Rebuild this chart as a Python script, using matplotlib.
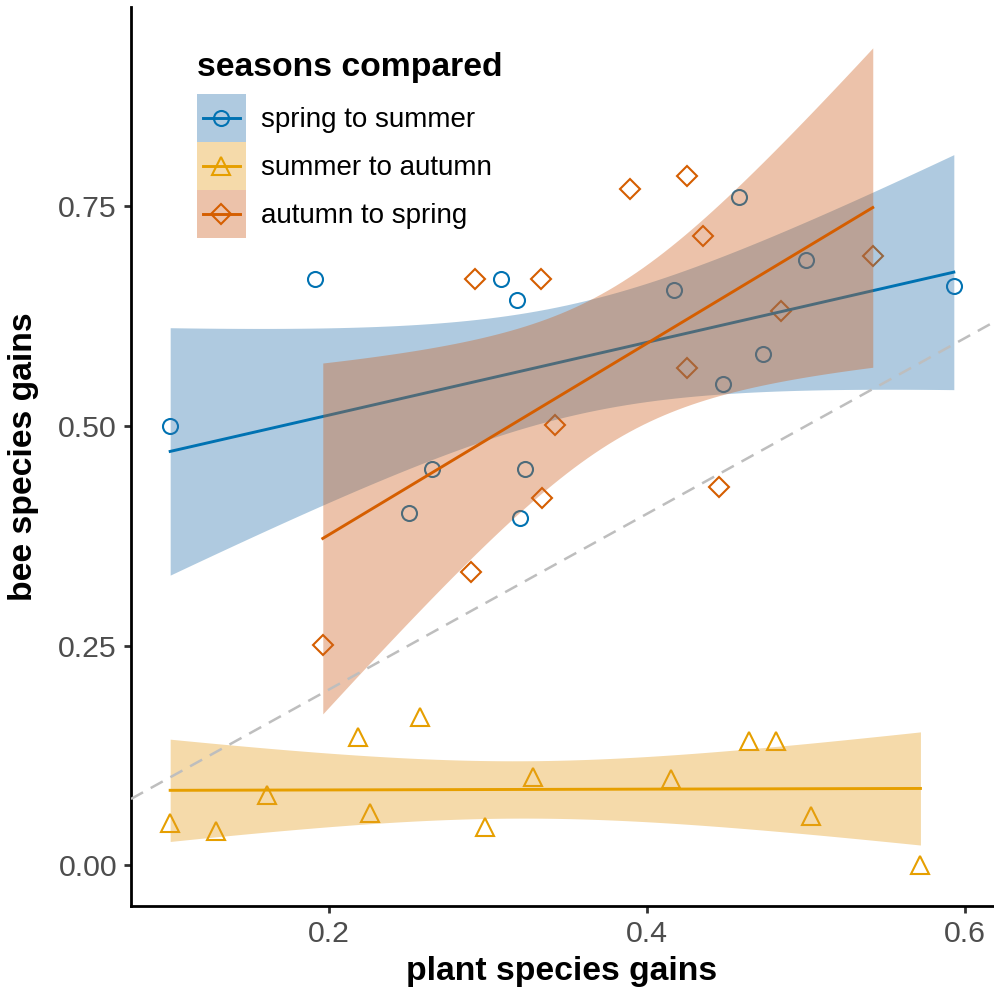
import numpy as np
import matplotlib
matplotlib.use('Agg')
import matplotlib.pyplot as plt
from matplotlib.patches import Patch
from matplotlib.lines import Line2D
from matplotlib.legend_handler import HandlerTuple, HandlerLine2D

plt.rcParams['font.family'] = ['Liberation Sans', 'DejaVu Sans']

# plant vs bee species gains for each pair of seasons
spring_x = [0.100, 0.191, 0.308, 0.318, 0.320, 0.265, 0.323, 0.250, 0.417,
            0.458, 0.500, 0.473, 0.448, 0.593]
spring_y = [0.500, 0.667, 0.667, 0.643, 0.395, 0.451, 0.451, 0.401, 0.655,
            0.761, 0.689, 0.582, 0.548, 0.659]

summer_x = [0.100, 0.129, 0.161, 0.218, 0.226, 0.257, 0.298, 0.328, 0.415,
            0.464, 0.481, 0.503, 0.572]
summer_y = [0.048, 0.039, 0.080, 0.146, 0.059, 0.169, 0.043, 0.100, 0.098,
            0.141, 0.141, 0.056, 0.000]

autumn_x = [0.196, 0.292, 0.333, 0.389, 0.425, 0.435, 0.289, 0.334, 0.342,
            0.425, 0.445, 0.484, 0.542]
autumn_y = [0.251, 0.667, 0.667, 0.770, 0.784, 0.716, 0.334, 0.418, 0.501,
            0.566, 0.430, 0.631, 0.694]

groups = ['spring to summer', 'summer to autumn', 'autumn to spring']
colors = ['#0072B2', '#E69F00', '#D55E00']
fills = ['#2D76AE', '#E59E20', '#CD6120']
markers = ['o', '^', 'D']
msizes = [10.8, 12.5, 10.0]
xs = [spring_x, summer_x, autumn_x]
ys = [spring_y, summer_y, autumn_y]
band_alpha = 0.38

# two sided 95% t quantiles by degrees of freedom
t975 = {10: 2.228139, 11: 2.200985, 12: 2.178813, 13: 2.160369}


def lm_fit(x, y, n_out=80):
    # straight line fit with a 95% confidence band for the mean
    x = np.asarray(x)
    y = np.asarray(y)
    n = len(x)
    b, a = np.polyfit(x, y, 1)
    resid = y - (a + b * x)
    s = np.sqrt(np.sum(resid ** 2) / (n - 2))
    sxx = np.sum((x - x.mean()) ** 2)
    xg = np.linspace(x.min(), x.max(), n_out)
    yg = a + b * xg
    se = s * np.sqrt(1.0 / n + (xg - x.mean()) ** 2 / sxx)
    t = t975[n - 2]
    return xg, yg, yg - t * se, yg + t * se


class CentredLine(HandlerLine2D):
    # legend line sits in the middle of the key box, a bit shorter than it
    def create_artists(self, legend, orig_handle, xdescent, ydescent,
                       width, height, fontsize, trans):
        d = 4.3
        return super().create_artists(legend, orig_handle, xdescent - d,
                                      ydescent, width - 2 * d,
                                      height - ydescent, fontsize, trans)


fig = plt.figure(figsize=(9.94, 9.92), dpi=100)
ax = fig.add_axes([131 / 994, 86 / 992, 862 / 994, 899 / 992])

for x, y, c, m, ms in zip(xs, ys, colors, markers, msizes):
    ax.plot(x, y, ls='none', marker=m, ms=ms, mfc='none', mec=c, mew=1.5,
            zorder=2)

allx, ally = [], []
z = 3
for x, y, c, f in zip(xs, ys, colors, fills):
    xg, yg, lo, hi = lm_fit(x, y)
    ax.fill_between(xg, lo, hi, color=f, alpha=band_alpha, lw=0, zorder=z)
    ax.plot(xg, yg, color=c, lw=2.1, zorder=z + 0.5)
    z += 1
    allx += list(x)
    ally += list(y) + list(lo) + list(hi)

# limits with the usual 5% padding
x0, x1 = min(allx), max(allx)
y0, y1 = min(ally), max(ally)
dx = (x1 - x0) * 0.05
dy = (y1 - y0) * 0.05
ax.set_xlim(x0 - dx, x1 + dx)
ax.set_ylim(y0 - dy, y1 + dy)

# 1:1 line
ax.axline((0, 0), slope=1, color='#BEBEBE', lw=1.8, dashes=(5.5, 3.5),
          zorder=10)

ax.set_xticks([0.2, 0.4, 0.6])
ax.set_xticklabels(['0.2', '0.4', '0.6'])
ax.set_yticks([0, 0.25, 0.5, 0.75])
ax.set_yticklabels(['0.00', '0.25', '0.50', '0.75'])
ax.tick_params(labelsize=21.8, labelcolor='#4D4D4D', color='#333333',
               length=5, width=2.0, pad=5)

for side in ['top', 'right']:
    ax.spines[side].set_visible(False)
for side in ['left', 'bottom']:
    ax.spines[side].set_linewidth(2.0)

ax.set_xlabel('plant species gains', fontsize=24.3, fontweight='bold',
              labelpad=6)
ax.set_ylabel('bee species gains', fontsize=24.3, fontweight='bold',
              labelpad=14)

handles = []
for c, f, m, ms in zip(colors, fills, markers, msizes):
    box = Patch(facecolor=f, alpha=band_alpha, lw=0)
    ln = Line2D([], [], color=c, lw=2.1, marker=m, ms=ms, mfc='none',
                mec=c, mew=1.5)
    handles.append((box, ln))

leg = ax.legend(handles, groups, title='seasons compared', loc='upper left',
                bbox_to_anchor=(197 / 994, 940 / 992),
                bbox_transform=fig.transFigure, frameon=False, fontsize=20,
                title_fontproperties={'weight': 'bold', 'size': 24.3},
                handlelength=1.76, handleheight=2.285, labelspacing=0,
                handletextpad=0.55, borderpad=0, borderaxespad=0,
                alignment='left',
                handler_map={tuple: HandlerTuple(ndivide=1, pad=0),
                             Line2D: CentredLine()})
leg._legend_box.sep = 8

fig.savefig('out.png', dpi=100)
